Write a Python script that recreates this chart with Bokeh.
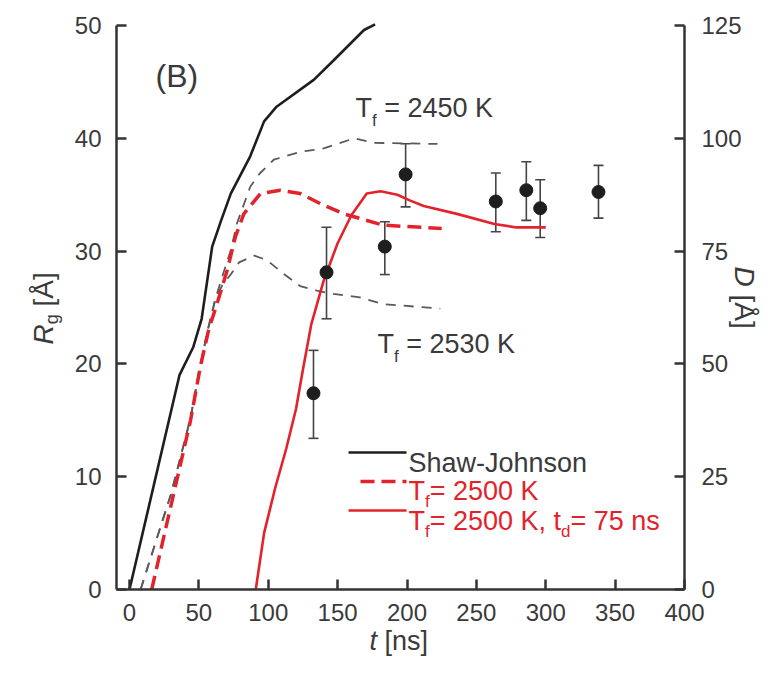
import math
from bokeh.plotting import figure
from bokeh.models import Range1d, LinearAxis, Label, Whisker, ColumnDataSource, FixedTicker, TeeHead
from bokeh.embed import file_html
from bokeh.resources import INLINE

# ---------------- data ----------------
# Shaw-Johnson model, R_g [A] vs t [ns]
t_sj = [0, 36, 46, 52, 59.6, 66, 73, 87, 97, 106, 133, 147, 169, 177]
rg_sj = [0, 19.0, 21.5, 24.0, 30.4, 32.7, 35.1, 38.4, 41.5, 42.8, 45.2, 46.9, 49.6, 50.1]

# T_f = 2500 K (red dashed)
t_2500 = [16, 30, 44, 51, 57, 63, 70.4, 76.4, 82.4, 94.4, 108.8, 123, 137.7, 154.5, 183, 225]
rg_2500 = [0, 7.5, 15.0, 19.7, 23.0, 25.3, 28.3, 31.3, 33.3, 35.1, 35.4, 35.1, 34.2, 33.3, 32.3, 32.0]

# T_f = 2450 K (grey dashed, upper)
t_2450 = [8, 30, 44, 51, 57, 62, 67, 72.8, 77.6, 87, 94, 104, 123, 140, 162, 176, 222]
rg_2450 = [0, 8.5, 15.2, 19.9, 23.3, 25.8, 27.8, 30.0, 32.5, 35.7, 36.9, 38.1, 38.8, 39.1, 40.0, 39.6, 39.5]

# T_f = 2530 K (grey dashed, lower)
t_2530 = [8, 30, 44, 51, 57, 62, 67, 72.8, 79, 90, 99, 111, 123, 135, 147, 166, 183, 224]
rg_2530 = [0, 8.5, 15.2, 19.9, 23.3, 25.8, 27.0, 27.9, 29.0, 29.6, 29.2, 28.0, 26.9, 26.5, 26.2, 25.9, 25.3, 24.9]

# T_f = 2500 K, t_d = 75 ns (red solid)
t_2500d = [91, 97, 105, 113, 120, 125, 131, 140, 150, 160, 171, 181, 193, 202, 212, 236, 263, 279, 300]
rg_2500d = [0, 5.0, 9.0, 12.5, 16.0, 19.5, 23.5, 27.4, 30.7, 33.2, 35.1, 35.3, 35.0, 34.5, 34.0, 33.3, 32.4, 32.1, 32.1]

# measured D [A] with error bars (right axis)
t_exp = [132.6, 142, 184, 199, 264, 286, 296, 338]
d_exp = [43.5, 70.3, 76.0, 92.0, 86.0, 88.5, 84.5, 88.1]
d_lo = [33.5, 60.0, 69.8, 84.8, 79.3, 81.8, 78.0, 82.3]
d_hi = [53.0, 80.3, 81.5, 98.8, 92.3, 94.8, 90.8, 94.0]

x_ticks = [0, 50, 100, 150, 200, 250, 300, 350, 400]
rg_ticks = [0, 10, 20, 30, 40, 50]
d_ticks = [0, 25, 50, 75, 100, 125]

# ---------------- layout / style ----------------
W, H = 767, 659
# pixel anchors of the plot box inside the figure
PX_T0, PX_T400 = 129.0, 684.0      # x pixel of t = 0 and t = 400
PY_R0, PY_R50 = 589.0, 25.0        # y pixel of Rg = 0 and Rg = 50
PX_AXL = 116.0                     # x pixel of the left axis line
SX = (PX_T400 - PX_T0) / 400.0
SY = (PY_R0 - PY_R50) / 50.0
X_START, X_END = -PX_T0 / SX, (W - PX_T0) / SX
Y_START, Y_END = (PY_R0 - H) / SY, PY_R0 / SY
D_PER_RG = 2.5
X_AXL = (PX_AXL - PX_T0) / SX

RED = "#e3232b"
BLK = "#1e1e1e"
GRY = "#5a5a5a"
AX = "#333333"
TXT = "#3a3a3a"
FONT = "Liberation Sans"

p = figure(width=W, height=H, output_backend="svg", toolbar_location=None,
           x_range=Range1d(X_START, X_END), y_range=Range1d(Y_START, Y_END),
           x_axis_location=None, y_axis_location=None,
           min_border=0, min_border_left=0, min_border_right=0,
           min_border_top=0, min_border_bottom=0)
p.extra_y_ranges = {"D": Range1d(Y_START * D_PER_RG, Y_END * D_PER_RG)}
p.outline_line_color = None
p.xgrid.grid_line_color = None
p.ygrid.grid_line_color = None
p.background_fill_color = "white"
p.border_fill_color = "white"


def style_axis(ax, ticks, standoff):
    ax.ticker = FixedTicker(ticks=ticks)
    ax.axis_line_width = 2.5
    ax.axis_line_color = AX
    ax.major_tick_line_color = AX
    ax.major_tick_line_width = 2.5
    ax.major_tick_in = 10
    ax.major_tick_out = 0
    ax.minor_tick_line_color = None
    ax.major_label_text_font = FONT
    ax.major_label_text_font_size = "24px"
    ax.major_label_text_color = TXT
    ax.major_label_standoff = standoff


ax_b = LinearAxis(fixed_location=0, bounds=(X_AXL, 400))
style_axis(ax_b, x_ticks, 14)
p.add_layout(ax_b, "below")

ax_l = LinearAxis(fixed_location=X_AXL, bounds=(0, 50))
style_axis(ax_l, rg_ticks, 15)
p.add_layout(ax_l, "left")

ax_r = LinearAxis(y_range_name="D", fixed_location=400, bounds=(0, 125))
style_axis(ax_r, d_ticks, 17)
p.add_layout(ax_r, "right")

# ---------------- curves ----------------
p.line(t_2450, rg_2450, line_color=GRY, line_width=1.8, line_dash="10 8")
p.line(t_2530, rg_2530, line_color=GRY, line_width=1.8, line_dash="10 8")
p.line(t_sj, rg_sj, line_color=BLK, line_width=2.6)
p.line(t_2500, rg_2500, line_color=RED, line_width=3.5, line_dash="14 7")
p.line(t_2500d, rg_2500d, line_color=RED, line_width=2.6)

# ---------------- measured points ----------------
src = ColumnDataSource(dict(t=t_exp, d=d_exp, lo=d_lo, hi=d_hi))
wk = Whisker(source=src, base="t", lower="lo", upper="hi", y_range_name="D",
             line_color="#444444", line_width=1.6,
             upper_head=TeeHead(size=10, line_color="#444444", line_width=1.6),
             lower_head=TeeHead(size=10, line_color="#444444", line_width=1.6))
p.add_layout(wk)
p.scatter("t", "d", source=src, y_range_name="D", size=13,
          fill_color=BLK, line_color=BLK)

# ---------------- text helpers ----------------
ADV = {"0": .556, "1": .556, "2": .556, "3": .556, "4": .556, "5": .556, "6": .556,
       "7": .556, "8": .556, "9": .556, " ": .278, "=": .584, "K": .667, ",": .278,
       "T": .611, "f": .278, "t": .278, "d": .556, "n": .556, "s": .5, "R": .722,
       "g": .556, "[": .278, "\u00c5": .667, "]": .278, "D": .722}


def tx(px):
    return (px - PX_T0) / SX


def ry(py):
    return (PY_R0 - py) / SY


def rich(px, py, parts, color=TXT, angle=0.0):
    """parts: (text, size, italic, subscript shift in px)"""
    dx, dy = math.cos(angle), -math.sin(angle)
    sx, sy = math.sin(angle), math.cos(angle)
    cx, cy = px, py
    for text, size, italic, shift in parts:
        lead = len(text) - len(text.lstrip(" "))
        if lead:
            w = lead * ADV[" "] * size
            cx += dx * w
            cy += dy * w
            text = text.lstrip(" ")
        p.add_layout(Label(x=tx(cx + sx * shift), y=ry(cy + sy * shift), text=text,
                           text_font=FONT, text_font_size=f"{size}px",
                           text_font_style="italic" if italic else "normal",
                           text_color=color, angle=angle,
                           text_align="left", text_baseline="alphabetic"))
        w = sum(ADV.get(c, .556) for c in text) * size
        cx += dx * w
        cy += dy * w


# panel tag
rich(155, 75, [("(B)", 32, False, 0)])

# curve annotations
rich(355, 107, [("T", 27, False, 0), ("f", 17, False, 13), (" = 2450 K", 27, False, 0)])
rich(377, 343, [("T", 27, False, 0), ("f", 17, False, 13), (" = 2530 K", 27, False, 0)])

# axis titles
rich(369, 640, [("t", 27, True, 0), (" [ns]", 27, False, 0)])
rich(43, 344, [("R", 28, True, 0), ("g", 18, False, 8), (" [\u00c5]", 28, False, 0)],
     angle=math.pi / 2)
rich(744, 266, [("D", 28, True, 0), (" [\u00c5]", 28, False, 0)], angle=-math.pi / 2)

# ---------------- legend (manual, to allow subscripts) ----------------
p.line([tx(348), tx(406)], [ry(452)] * 2, line_color=BLK, line_width=2.6)
p.line([tx(360), tx(406)], [ry(481)] * 2, line_color=RED, line_width=3.5, line_dash="14 7")
p.line([tx(348), tx(406)], [ry(510)] * 2, line_color=RED, line_width=2.6)

rich(408, 462, [("Shaw-Johnson", 27, False, 0)])
rich(408, 490, [("T", 27, False, 0), ("f", 17, False, 11), ("= 2500 K", 27, False, 0)],
     color=RED)
rich(408, 520, [("T", 27, False, 0), ("f", 17, False, 11), ("= 2500 K,", 27, False, 0),
                (" t", 27, False, 0), ("d", 17, False, 11), ("= 75 ns", 27, False, 0)],
     color=RED)

open("out.html", "w").write(file_html(p, INLINE))
